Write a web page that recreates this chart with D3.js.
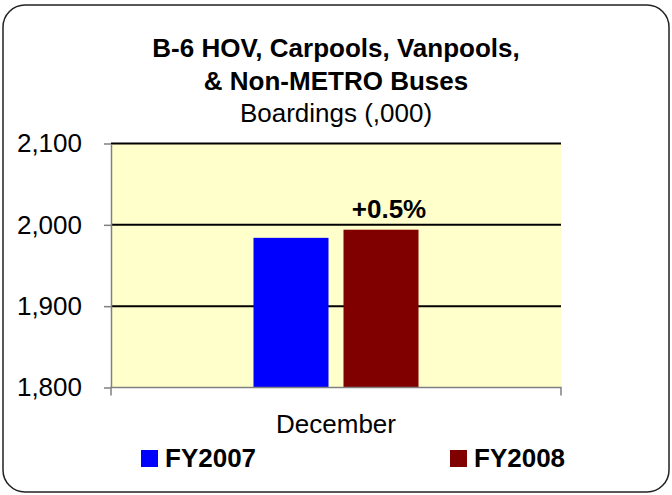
<!DOCTYPE html>
<html>
<head>
<meta charset="utf-8">
<script src="https://cdn.jsdelivr.net/npm/d3@7"></script>
<style>
body { margin: 0; background: #fff; }
svg { font-family: "Liberation Sans", Arial, sans-serif; }
</style>
</head>
<body>
<svg id="chart" width="672" height="495"></svg>
<script>
var categories = ["December"],
    series_names = ["FY2007", "FY2008"],
    series_colours = ["#0000ff", "#800000"],
    fy2007_values = [1984],
    fy2008_values = [1994],
    change_labels = ["+0.5%"],
    y_ticks = [1800, 1900, 2000, 2100],
    title_lines = ["B-6 HOV, Carpools, Vanpools,", "& Non-METRO Buses"],
    subtitle = "Boardings (,000)"
;

var svg = d3.select("#chart"),
    plot = { left: 111, right: 561, top: 143.5, bottom: 387.5 },
    xScale = d3.scaleBand().domain(categories)
        .range([plot.left, plot.right]).paddingInner(0).paddingOuter(0.8636),
    x1 = d3.scaleBand().domain(series_names)
        .range([0, xScale.bandwidth()]).paddingInner(0.1667),
    yScale = d3.scaleLinear().domain([1800, 2100]).range([plot.bottom, plot.top]),
    values = { FY2007: fy2007_values, FY2008: fy2008_values }
;

// outer rounded frame
svg.append("rect")
    .attr("x", 3).attr("y", 5).attr("width", 666).attr("height", 487)
    .attr("rx", 22).attr("ry", 22)
    .attr("fill", "#fff").attr("stroke", "#222").attr("stroke-width", 1.5);

// titles
svg.selectAll(".title")
    .data(title_lines)
    .enter().append("text")
    .attr("x", 336)
    .attr("y", (d, i) => 57 + i * 33)
    .attr("text-anchor", "middle")
    .style("font-size", "26px").style("font-weight", "bold")
    .text(d => d);

svg.append("text")
    .attr("x", 336).attr("y", 122)
    .attr("text-anchor", "middle")
    .style("font-size", "26px")
    .text(subtitle);

// plot background
svg.append("rect")
    .attr("x", plot.left).attr("y", plot.top)
    .attr("width", plot.right - plot.left).attr("height", plot.bottom - plot.top)
    .attr("fill", "#ffffcc");

// gridlines
svg.append("g")
    .selectAll("line")
    .data(y_ticks.slice(1))
    .enter().append("line")
    .attr("x1", plot.left).attr("x2", plot.right)
    .attr("y1", d => yScale(d)).attr("y2", d => yScale(d))
    .attr("stroke", "#000").attr("stroke-width", 2);

// bars
var groups = svg.append("g")
    .selectAll("g")
    .data(categories)
    .enter().append("g")
    .attr("transform", d => "translate(" + xScale(d) + ",0)");

groups.selectAll("rect")
    .data((c, ci) => series_names.map(s => ({ series: s, value: values[s][ci] })))
    .enter().append("rect")
    .attr("x", d => x1(d.series))
    .attr("y", d => yScale(d.value))
    .attr("width", x1.bandwidth())
    .attr("height", d => yScale(1800) - yScale(d.value))
    .attr("fill", d => series_colours[series_names.indexOf(d.series)]);

groups.append("text")
    .attr("x", x1("FY2008") + x1.bandwidth() / 2 + 8)
    .attr("y", (c, ci) => yScale(fy2008_values[ci]) - 12)
    .attr("text-anchor", "middle")
    .style("font-size", "26px").style("font-weight", "bold")
    .text((c, ci) => change_labels[ci]);

// y axis
var yAxis = svg.append("g")
    .attr("transform", "translate(" + plot.left + ",0)")
    .call(d3.axisLeft(yScale).tickValues(y_ticks).tickFormat(d3.format(",")).tickSizeInner(7).tickSizeOuter(0).tickPadding(22));
yAxis.select(".domain").attr("stroke", "#808080").attr("stroke-width", 1.5);
yAxis.selectAll(".tick line").attr("stroke", "#808080").attr("stroke-width", 1.5);
yAxis.selectAll(".tick text").style("font-size", "26px").attr("fill", "#000")
    .style("font-family", "'Liberation Sans', Arial, sans-serif");

// x axis
var xAxis = svg.append("g")
    .attr("transform", "translate(0," + plot.bottom + ")")
    .call(d3.axisBottom(xScale).tickSize(0).tickPadding(27));
xAxis.select(".domain").attr("stroke", "#808080").attr("stroke-width", 1.5)
    .attr("d", "M" + plot.left + ",8V0H" + plot.right + "V8");
xAxis.selectAll(".tick text").style("font-size", "26px").attr("fill", "#000")
    .style("font-family", "'Liberation Sans', Arial, sans-serif");

// legend
var legend = svg.append("g")
    .selectAll("g")
    .data(series_names)
    .enter().append("g")
    .attr("transform", (d, i) => "translate(" + [141, 450][i] + ",450)");

legend.append("rect")
    .attr("width", 17).attr("height", 17)
    .attr("fill", (d, i) => series_colours[i]);

legend.append("text")
    .attr("x", 24).attr("y", 17)
    .style("font-size", "26px").style("font-weight", "bold")
    .text(d => d);
</script>
</body>
</html>
